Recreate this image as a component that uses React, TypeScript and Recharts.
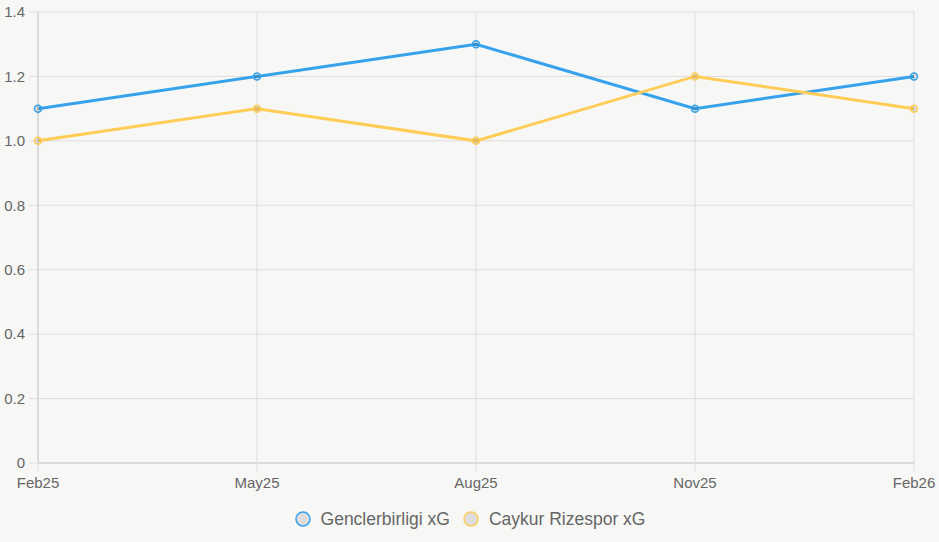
import React from "react";
import { LineChart, Line, XAxis, YAxis, CartesianGrid, Legend } from "recharts";

const categories = ["Feb25", "May25", "Aug25", "Nov25", "Feb26"];
const genclerbirligi = [1.1, 1.2, 1.3, 1.1, 1.2];
const caykur = [1.0, 1.1, 1.0, 1.2, 1.1];
const yTicks = [0, 0.2, 0.4, 0.6, 0.8, 1.0, 1.2, 1.4];

const SERIES = [
  { key: "gen", name: "Genclerbirligi xG", color: "#36A2EB" },
  { key: "cay", name: "Caykur Rizespor xG", color: "#FFCD56" },
];

const data = categories.map((c, i) => ({ cat: c, gen: genclerbirligi[i], cay: caykur[i] }));

const FONT = "'Liberation Sans', Arial, Helvetica, sans-serif";

const LegendContent = () => (
  <div
    style={{
      height: 49,
      boxSizing: "border-box",
      paddingTop: 16,
      paddingLeft: 25,
      display: "flex",
      justifyContent: "center",
      alignItems: "flex-start",
      fontFamily: FONT,
      fontSize: 17.5,
      color: "#666",
    }}
  >
    {SERIES.map((s, i) => (
      <div
        key={s.key}
        style={{ display: "flex", alignItems: "center", height: 20, marginLeft: i === 0 ? 0 : 12 }}
      >
        <svg width={18} height={18} style={{ marginRight: 9 }}>
          <circle cx={9} cy={9} r={7} fill="#dddddd" stroke={s.color} strokeWidth={1.5} />
        </svg>
        <span>{s.name}</span>
      </div>
    ))}
  </div>
);

export default function App() {
  return (
    <div style={{ position: "fixed", left: 0, top: 0, width: 939, height: 542, background: "#f7f7f5" }}>
      <LineChart width={939} height={542} data={data} margin={{ top: 12, right: 25, left: 0, bottom: 0 }}>
        <CartesianGrid stroke="#dddddd" strokeWidth={1} />
        <XAxis
          dataKey="cat"
          height={30}
          tickSize={9}
          tickMargin={5}
          stroke="#cccccc"
          tick={{ fill: "#666", fontSize: 15, fontFamily: FONT }}
          tickLine={{ stroke: "#dddddd" }}
          interval={0}
        />
        <YAxis
          width={38}
          domain={[0, 1.4]}
          ticks={yTicks}
          tickFormatter={(v: number) => (v === 0 ? "0" : v.toFixed(1))}
          tickSize={9}
          tickMargin={4}
          stroke="#cccccc"
          tick={{ fill: "#666", fontSize: 15, fontFamily: FONT }}
          tickLine={{ stroke: "#dddddd" }}
          interval={0}
        />
        <Legend verticalAlign="bottom" content={<LegendContent />} />
        {SERIES.map((s) => (
          <Line
            key={s.key}
            type="linear"
            dataKey={s.key}
            name={s.name}
            stroke={s.color}
            strokeWidth={3}
            dot={{ r: 3.5, fill: "rgba(0,0,0,0.1)", stroke: s.color, strokeWidth: 1.5 }}
            activeDot={false}
            isAnimationActive={false}
          />
        ))}
      </LineChart>
    </div>
  );
}
